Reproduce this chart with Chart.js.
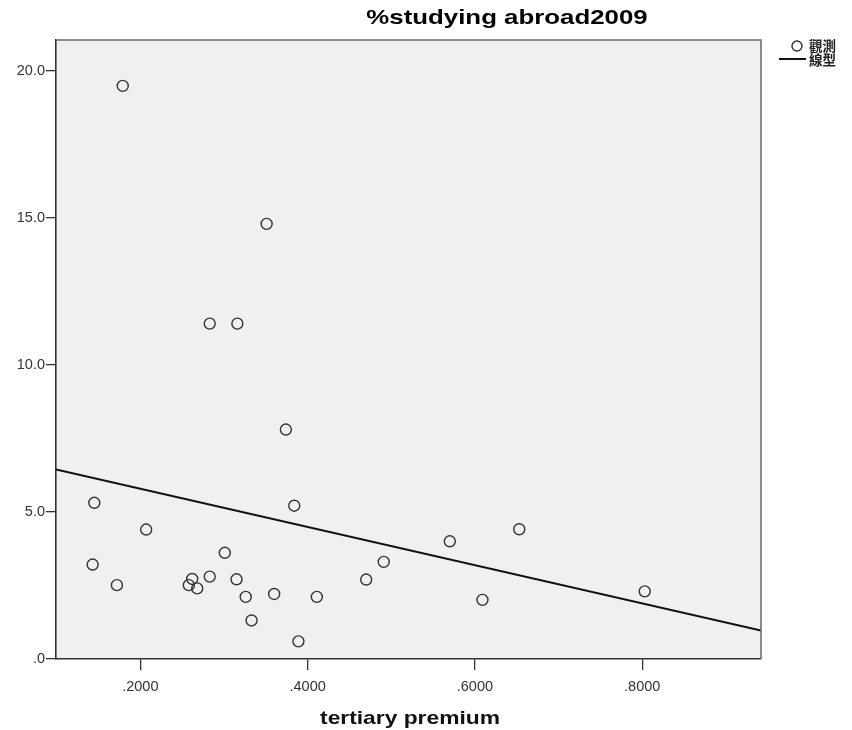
<!DOCTYPE html>
<html>
<head>
<meta charset="utf-8">
<script src="https://cdn.jsdelivr.net/npm/chart.js@4.4.1/dist/chart.umd.min.js"></script>
<style>
  html, body { margin: 0; padding: 0; background: #ffffff; }
  #wrap { width: 852px; height: 730px; }
</style>
</head>
<body>
<div id="wrap"><canvas id="c" width="852" height="730"></canvas></div>
<script>
// Observed cases: tertiary premium (x) vs. % studying abroad in 2009 (y)
const premium = [0.179, 0.351, 0.283, 0.316, 0.374, 0.384, 0.145, 0.207, 0.143, 0.172,
                 0.262, 0.258, 0.268, 0.283, 0.301, 0.315, 0.326, 0.333, 0.360, 0.389,
                 0.411, 0.470, 0.491, 0.570, 0.653, 0.609, 0.803];
const abroad  = [19.48, 14.79, 11.40, 11.40, 7.80, 5.21, 5.31, 4.40, 3.21, 2.51,
                 2.72, 2.51, 2.40, 2.80, 3.61, 2.71, 2.11, 1.31, 2.21, 0.60,
                 2.11, 2.70, 3.30, 4.00, 4.41, 2.01, 2.30];

// Linear fit line, drawn edge to edge of the plot
const fitX = [0.0992, 0.942];
const fitY = [6.44, 0.97];

// Axis ticks
const xTicks = [0.2, 0.4, 0.6, 0.8];
const yTicks = [0, 5, 10, 15, 20];
const xRange = [0.0992, 0.942];
const yRange = [0, 21.04];

const chartTitle = '%studying abroad2009';
const xTitle = 'tertiary premium';
const legendObserved = '觀測';
const legendLinear = '線型';

const observed = premium.map((x, i) => ({ x, y: abroad[i] }));
const fitLine = fitX.map((x, i) => ({ x, y: fitY[i] }));

function fmtX(v) { return v.toFixed(4).replace(/^0/, ''); }
function fmtY(v) { return v === 0 ? '.0' : v.toFixed(1); }

function stretchText(ctx, text, x, y, font, sx, align) {
  ctx.save();
  ctx.translate(x, y);
  ctx.scale(sx, 1);
  ctx.font = font;
  ctx.textAlign = align || 'center';
  ctx.textBaseline = 'middle';
  ctx.fillText(text, 0, 0);
  ctx.restore();
}

const decorations = {
  id: 'decorations',
  beforeDraw(chart) {
    const { ctx, chartArea: a } = chart;
    ctx.save();
    ctx.fillStyle = '#f0f0f0';
    ctx.fillRect(a.left, a.top, a.right - a.left, a.bottom - a.top);
    ctx.restore();
  },
  afterDraw(chart) {
    const { ctx, chartArea: a } = chart;
    ctx.save();
    // frame on top and right
    ctx.strokeStyle = '#6a6a6a';
    ctx.lineWidth = 1.5;
    ctx.beginPath();
    ctx.moveTo(a.left, a.top);
    ctx.lineTo(a.right, a.top);
    ctx.lineTo(a.right, a.bottom);
    ctx.stroke();

    // chart title
    ctx.fillStyle = '#000000';
    stretchText(ctx, chartTitle, 507, 18, 'bold 21px "Liberation Sans", Arial, sans-serif', 1.23);

    // x axis title
    ctx.fillStyle = '#111111';
    stretchText(ctx, xTitle, 410, 719, 'bold 19px "Liberation Sans", Arial, sans-serif', 1.2);

    // legend
    const obs = chart.data.datasets[0];
    const fit = chart.data.datasets[1];
    ctx.strokeStyle = obs.borderColor;
    ctx.lineWidth = obs.borderWidth;
    ctx.beginPath();
    ctx.arc(797, 46, 5, 0, Math.PI * 2);
    ctx.stroke();
    ctx.strokeStyle = fit.borderColor;
    ctx.lineWidth = fit.borderWidth;
    ctx.beginPath();
    ctx.moveTo(779, 59);
    ctx.lineTo(806, 59);
    ctx.stroke();
    ctx.fillStyle = '#222222';
    ctx.font = 'bold 13.5px "Noto Sans CJK TC", sans-serif';
    ctx.textAlign = 'left';
    ctx.textBaseline = 'middle';
    ctx.fillText(legendObserved, 809, 46);
    ctx.fillText(legendLinear, 809, 60);
    ctx.restore();
  }
};

new Chart(document.getElementById('c'), {
  type: 'scatter',
  data: {
    datasets: [
      {
        label: legendObserved,
        data: observed,
        pointStyle: 'circle',
        pointRadius: 5.5,
        pointHoverRadius: 5.5,
        borderWidth: 1.4,
        borderColor: '#333333',
        backgroundColor: 'rgba(0,0,0,0)'
      },
      {
        label: legendLinear,
        type: 'line',
        data: fitLine,
        showLine: true,
        pointRadius: 0,
        borderColor: '#111111',
        borderWidth: 2,
        fill: false
      }
    ]
  },
  options: {
    responsive: false,
    animation: false,
    devicePixelRatio: 1,
    layout: { padding: { left: 0, right: 91, top: 40, bottom: 0 } },
    plugins: {
      legend: { display: false },
      title: { display: false },
      tooltip: { enabled: false }
    },
    scales: {
      x: {
        type: 'linear',
        min: xRange[0],
        max: xRange[1],
        afterBuildTicks(scale) { scale.ticks = xTicks.map(v => ({ value: v })); },
        afterFit(scale) { scale.height = 71; },
        ticks: {
          callback: v => fmtX(v),
          color: '#333333',
          font: { family: '"Liberation Sans", Arial, sans-serif', size: 14.5 },
          padding: 8,
          maxRotation: 0,
          autoSkip: false
        },
        grid: { drawOnChartArea: false, drawTicks: true, tickLength: 11, color: '#333333', lineWidth: 1.3 },
        border: { display: true, color: '#333333', width: 1.6 }
      },
      y: {
        type: 'linear',
        min: yRange[0],
        max: yRange[1],
        afterBuildTicks(scale) { scale.ticks = yTicks.map(v => ({ value: v })); },
        afterFit(scale) { scale.width = 56; },
        ticks: {
          callback: v => fmtY(v),
          color: '#333333',
          font: { family: '"Liberation Sans", Arial, sans-serif', size: 14.5 },
          padding: 1,
          autoSkip: false
        },
        grid: { drawOnChartArea: false, drawTicks: true, tickLength: 10, color: '#333333', lineWidth: 1.3 },
        border: { display: true, color: '#333333', width: 1.6 }
      }
    }
  },
  plugins: [decorations]
});
</script>
</body>
</html>
